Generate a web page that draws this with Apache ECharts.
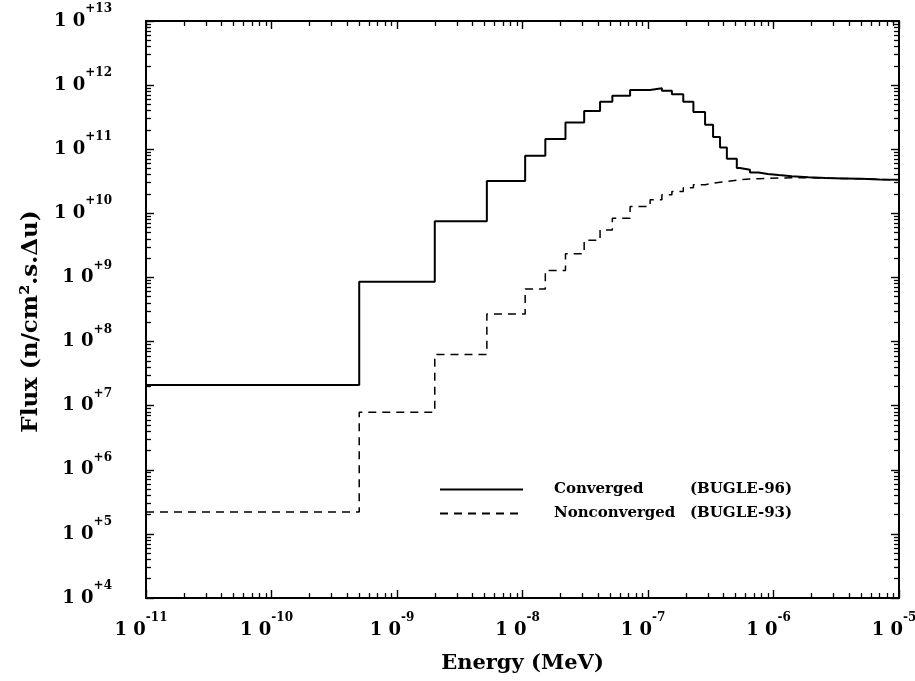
<!DOCTYPE html>
<html>
<head>
<meta charset="utf-8">
<title>Flux spectrum</title>
<script src="https://cdn.jsdelivr.net/npm/echarts@6.0.0/dist/echarts.min.js"></script>
<style>
  html, body { margin: 0; padding: 0; background: #fff; }
  #chart { width: 915px; height: 681px; }
</style>
</head>
<body>
<div id="chart"></div>
<script>
// group boundaries (MeV)
const energyBounds = [
  1e-11, 5e-10, 2e-9, 5.2e-9, 1.05e-8, 1.52e-8, 2.2e-8, 3.1e-8, 4.15e-8,
  5.2e-8, 7.2e-8, 1.04e-7, 1.29e-7, 1.55e-7, 1.91e-7, 2.3e-7, 2.85e-7,
  3.3e-7, 3.75e-7, 4.25e-7, 5.1e-7, 5.4e-7, 6.5e-7, 7.6e-7, 9e-7, 1.1e-6,
  1.4e-6, 1.9e-6, 2.6e-6, 3.6e-6, 5e-6, 7e-6, 1e-5
];
// group fluxes (one per group)
const convergedFlux = [
  2.1e7, 8.6e8, 7.5e9, 3.2e10, 7.9e10, 1.45e11, 2.6e11, 3.95e11, 5.5e11,
  6.8e11, 8.4e11, 8.9e11, 8.2e11, 7.2e11, 5.5e11, 3.8e11, 2.4e11, 1.55e11,
  1.06e11, 7.1e10, 5.1e10, 4.8e10, 4.35e10, 4.1e10, 3.95e10, 3.8e10,
  3.65e10, 3.55e10, 3.5e10, 3.45e10, 3.38e10, 3.33e10
];
const nonconvergedFlux = [
  2.2e5, 7.9e6, 6.3e7, 2.7e8, 6.6e8, 1.28e9, 2.35e9, 3.8e9, 5.5e9,
  8.4e9, 1.28e10, 1.63e10, 1.95e10, 2.2e10, 2.5e10, 2.8e10, 2.95e10, 3.05e10,
  3.15e10, 3.28e10, 3.35e10, 3.42e10, 3.47e10, 3.5e10, 3.55e10, 3.58e10,
  3.6e10, 3.55e10, 3.5e10, 3.45e10, 3.38e10, 3.33e10
];
const xTickExps = [-11, -10, -9, -8, -7, -6, -5];
const yTickExps = [4, 5, 6, 7, 8, 9, 10, 11, 12, 13];
const seriesNames = ["Converged", "Nonconverged"];
const seriesTags = ["(BUGLE-96)", "(BUGLE-93)"];

const SERIF = "'DejaVu Serif', 'Liberation Serif', serif";

// step line: each group drawn flat between its two boundaries
function stepData(flux) {
  const pts = flux.map((v, i) => [energyBounds[i], v]);
  pts.push([energyBounds[energyBounds.length - 1], flux[flux.length - 1]]);
  return pts;
}

// 2..9 ticks inside every decade, in log10 space
function minorTicks(exps) {
  const out = [];
  for (let i = 0; i < exps.length - 1; i++) {
    for (let k = 2; k <= 9; k++) out.push(exps[i] + Math.log10(k));
  }
  return out;
}

const powRich = {
  b: { fontFamily: SERIF, fontWeight: "bold", fontSize: 18, color: "#000", lineHeight: 36 },
  e: { fontFamily: SERIF, fontWeight: "bold", fontSize: 12, color: "#000", lineHeight: 12, verticalAlign: "top" },
};

const frameLine = { lineStyle: { color: "#000", width: 2 } };

function majorAxis(position, exps, extra) {
  return Object.assign({
    type: "value",
    position: position,
    min: exps[0],
    max: exps[exps.length - 1],
    interval: 1,
    axisLine: frameLine,
    axisTick: { inside: true, length: 8, lineStyle: { color: "#000", width: 1.4 } },
    axisLabel: { show: false },
    splitLine: { show: false },
  }, extra);
}

function minorAxis(position, exps) {
  return {
    type: "value",
    position: position,
    min: exps[0],
    max: exps[exps.length - 1],
    axisLine: { show: false },
    axisTick: { inside: true, length: 5, customValues: minorTicks(exps), lineStyle: { color: "#000", width: 1.3 } },
    axisLabel: { show: false },
    splitLine: { show: false },
  };
}

const chart = echarts.init(document.getElementById("chart"));

const option = {
  animation: false,
  backgroundColor: "#fff",
  grid: { left: 146, right: 16, top: 21, bottom: 83, outerBoundsMode: "none" },
  xAxis: [
    { type: "log", min: 1e-11, max: 1e-5, show: false },
    majorAxis("bottom", xTickExps, {
      axisLabel: {
        margin: 14,
        padding: [0, 10, 0, 0],
        formatter: (v) => "{b|1 0}{e|" + v + "}",
        rich: powRich,
      },
      name: "Energy (MeV)",
      nameLocation: "middle",
      nameGap: 55,
      nameTextStyle: { fontFamily: SERIF, fontWeight: "bold", fontSize: 21, color: "#000" },
    }),
    minorAxis("bottom", xTickExps),
    majorAxis("top", xTickExps),
    minorAxis("top", xTickExps),
  ],
  yAxis: [
    { type: "log", min: 1e4, max: 1e13, show: false },
    majorAxis("left", yTickExps, {
      axisLabel: {
        margin: 34,
        formatter: (v) => "{b|1 0}{e|+" + v + "}",
        rich: powRich,
      },
      name: "Flux (n/cm\u00b2.s.\u0394u)",
      nameLocation: "middle",
      nameGap: 102,
      nameTextStyle: { fontFamily: SERIF, fontWeight: "bold", fontSize: 23, color: "#000", padding: [0, 24, 0, 0] },
    }),
    minorAxis("left", yTickExps),
    majorAxis("right", yTickExps),
    minorAxis("right", yTickExps),
  ],
  legend: {
    data: seriesNames,
    left: 439,
    top: 482,
    orient: "vertical",
    padding: 0,
    itemWidth: 83,
    itemHeight: 13,
    itemGap: 9,
    selectedMode: false,
    itemStyle: { opacity: 0 },
    formatter: (name) => "{s|}{n|" + name + "}{t|" + seriesTags[seriesNames.indexOf(name)] + "}",
    textStyle: {
      rich: {
        s: { width: 26 },
        n: { width: 136, fontFamily: SERIF, fontWeight: "bold", fontSize: 15, color: "#000", lineHeight: 13 },
        t: { fontFamily: SERIF, fontWeight: "bold", fontSize: 15, color: "#000", lineHeight: 13 },
      },
    },
  },
  series: [
    {
      name: seriesNames[0],
      type: "line",
      step: "end",
      symbol: "none",
      data: stepData(convergedFlux),
      lineStyle: { color: "#000", width: 2 },
      itemStyle: { color: "#000" },
    },
    {
      name: seriesNames[1],
      type: "line",
      step: "end",
      symbol: "none",
      data: stepData(nonconvergedFlux),
      lineStyle: { color: "#000", width: 1.5, type: [8, 6] },
      itemStyle: { color: "#000" },
    },
  ],
};

chart.setOption(option);
</script>
</body>
</html>
